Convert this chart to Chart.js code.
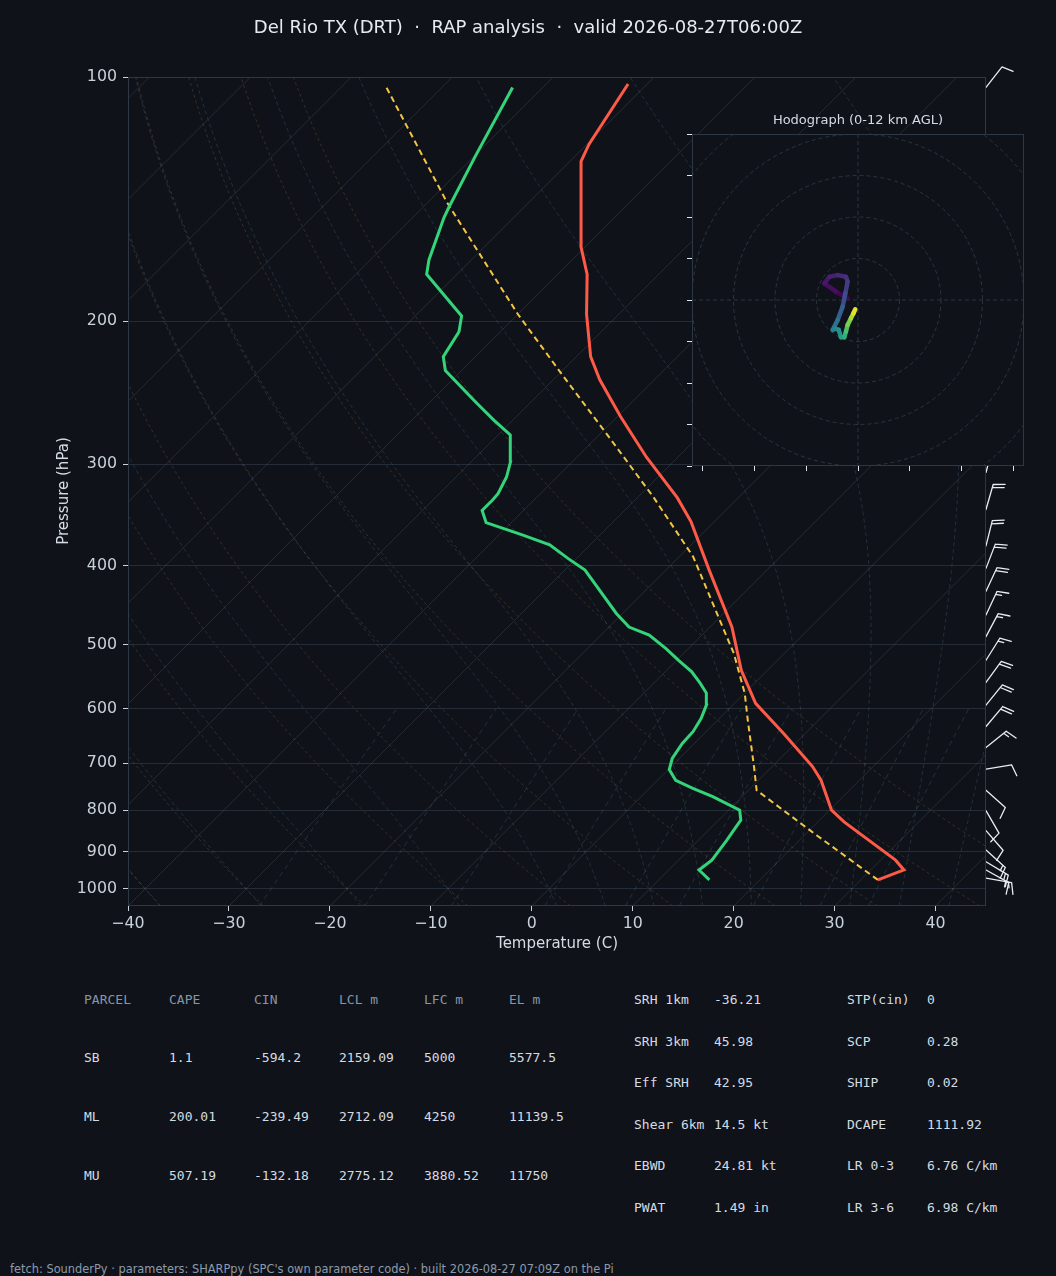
<!DOCTYPE html>
<html>
<head>
<meta charset="utf-8">
<title>Del Rio TX (DRT) sounding</title>
<script src="https://cdn.jsdelivr.net/npm/chart.js@4.4.1/dist/chart.umd.min.js"></script>
<style>
  body { margin: 0; background: #0f1319; width: 1056px; height: 1276px; position: relative; overflow: hidden;
         font-family: "DejaVu Sans", sans-serif; color: #e6ebf0; }
  canvas { position: absolute; }
  #skew { left: 0; top: 0; }
  #hodo { left: 600px; top: 100px; }
  .t { position: absolute; white-space: pre; line-height: 16px; height: 16px; }
  .mono { font-family: "DejaVu Sans Mono", monospace; font-size: 13px; color: #d5dbe3; }
  .head { color: #8795a8; }
</style>
</head>
<body>
<canvas id="skew" width="1056" height="960"></canvas>
<canvas id="hodo" width="456" height="400"></canvas>
<div id="labels"></div>

<script>
// sounding (pressure hPa, temperature C)
const tempP = [975, 948, 922, 827, 800, 735, 707, 644, 591, 538, 476, 405, 353, 330, 294, 262, 236, 221, 196, 175, 162, 140, 127, 121, 102];
const tempC = [31.7, 33.3, 31.5, 22.6, 20.2, 16.2, 14.0, 7.9, 2.1, -2.6, -7.8, -15.7, -22.3, -26.0, -33.1, -39.7, -45.4, -48.6, -53.2, -57.1, -60.4, -65.5, -68.9, -69.8, -71.9];

const dewP = [975, 948, 922, 871, 839, 823, 800, 770, 752, 735, 713, 691, 662, 640, 617, 594, 574, 558, 540, 523, 506, 487, 476, 458, 405, 392, 377, 366, 354, 342, 332, 326, 311, 298, 276, 265, 251, 230, 221, 206, 197, 175, 168, 149, 145, 125, 103];
const dewC = [15.0, 13.0, 13.3, 12.8, 12.4, 12.2, 11.1, 7.1, 4.3, 1.8, 0.1, -0.7, -1.2, -1.3, -1.8, -2.6, -3.8, -5.4, -7.4, -9.8, -12.2, -15.2, -18.0, -20.6, -28.0, -30.8, -34.0, -37.9, -42.5, -44.1, -44.1, -44.2, -45.0, -46.1, -48.8, -51.8, -55.6, -61.6, -63.2, -64.1, -65.4, -73.0, -74.2, -76.9, -77.4, -79.9, -83.0];

const parcelP = [975, 859, 756, 707, 620, 574, 513, 462, 390, 329, 275, 232, 196, 143, 103];
const parcelC = [31.7, 21.2, 10.8, 8.2, 3.0, 0.0, -5.0, -10.2, -18.6, -28.5, -39.4, -49.8, -60.0, -78.0, -95.5];

// wind barbs (pressure, direction deg, speed kt)
const windP = [970, 948, 926, 896, 848, 801, 756, 712, 670, 631, 594, 557, 523, 489, 460, 430, 403, 378, 341, 307, 103];
const windDir = [100, 119, 121, 132, 139, 150, 132, 81, 51, 40, 39, 36, 32, 28, 25, 25, 21, 14, 16, 15, 38];
const windKt = [15, 15, 15, 15, 10, 10, 10, 10, 15, 20, 20, 20, 15, 15, 15, 20, 20, 20, 20, 20, 10];

// hodograph (u, v kt) and height km AGL
const hodoU = [-5.0, -10.6, -16.2, -13.8, -9.8, -5.8, -5.0, -6.1, -7.4, -9.8, -12.2, -10.9, -9.3, -8.2, -6.6, -5.8, -5.0, -3.4, -2.2, -1.3];
const hodoV = [0.8, 4.0, 8.0, 11.2, 12.0, 11.2, 8.8, 3.2, -3.2, -9.6, -14.4, -13.8, -14.4, -17.9, -17.9, -15.2, -12.0, -8.8, -6.4, -4.5];
const hodoKm = [0, 0.3, 0.6, 0.9, 1.2, 1.5, 1.8, 2.4, 3.2, 4.0, 4.8, 5.3, 5.8, 6.5, 7.2, 8.0, 9.0, 10.0, 11.0, 12.0];

const presTicks = [100, 200, 300, 400, 500, 600, 700, 800, 900, 1000];
const tempTicks = [-40, -30, -20, -10, 0, 10, 20, 30, 40];
const hodoYTicks = [-80, -60, -40, -20, 0, 20, 40, 60, 80];
const hodoXTicks = [-75, -50, -25, 0, 25, 50, 75];
const hodoRings = [20, 40, 60, 80, 100];

// text panels
const titleText = 'Del Rio TX (DRT)  \u00b7  RAP analysis  \u00b7  valid 2026-08-27T06:00Z';
const parcelCols = ['PARCEL', 'CAPE', 'CIN', 'LCL m', 'LFC m', 'EL m'];
const parcelRows = [
  ['SB', '1.1', '-594.2', '2159.09', '5000', '5577.5'],
  ['ML', '200.01', '-239.49', '2712.09', '4250', '11139.5'],
  ['MU', '507.19', '-132.18', '2775.12', '3880.52', '11750']
];
const paramNames1 = ['SRH 1km', 'SRH 3km', 'Eff SRH', 'Shear 6km', 'EBWD', 'PWAT'];
const paramVals1 = ['-36.21', '45.98', '42.95', '14.5 kt', '24.81 kt', '1.49 in'];
const paramNames2 = ['STP(cin)', 'SCP', 'SHIP', 'DCAPE', 'LR 0-3', 'LR 3-6'];
const paramVals2 = ['0', '0.28', '0.02', '1111.92', '6.76 C/km', '6.98 C/km'];
const footerText = "fetch: SounderPy \u00b7 parameters: SHARPpy (SPC's own parameter code) \u00b7 built 2026-08-27 07:09Z on the Pi";

const dryT0 = [-40, -30, -20, -10, 0, 10, 20, 30, 40, 50];
const moistT0 = [-40, -30, -20, -10, 0, 5, 10, 15, 20, 25, 30, 35, 40, 45];
const mixRatios = [0.0004, 0.001, 0.002, 0.004, 0.007, 0.01, 0.016, 0.024, 0.032];

const SKEW = 34.93;   // 45 degree isotherms for this plot box
const P_BOT = 1050, P_TOP = 100;
function skx(t, p) { return t + SKEW * Math.log(P_BOT / p); }
function pts(P, T) { return P.map((p, i) => ({ x: skx(T[i], p), y: p })); }

// thermodynamics for the background lines
function dTdp(p, T) {
  const es = 6.112 * Math.exp(17.67 * (T - 273.15) / (T - 29.65));
  const rs = 0.622 * es / (p - es);
  return (287.04 * T + 2.501e6 * rs) / (1005.7 + 2.501e6 * 2.501e6 * rs * 0.622 / (287.04 * T * T)) / p;
}
function rk4(p, T, h) {
  const k1 = dTdp(p, T), k2 = dTdp(p + h / 2, T + h * k1 / 2);
  const k3 = dTdp(p + h / 2, T + h * k2 / 2), k4 = dTdp(p + h, T + h * k3);
  return T + h * (k1 + 2 * k2 + 2 * k3 + k4) / 6;
}
function moistLine(t0) {
  const out = [];
  let T = t0 + 273.15;
  for (let p = 1000; p < P_BOT; p += 5) T = rk4(p, T, 5);
  out.push([T - 273.15, P_BOT]);
  for (let p = P_BOT; p > P_TOP; p -= 5) { T = rk4(p, T, -5); out.push([T - 273.15, p - 5]); }
  return out;
}
function dryLine(t0) {
  const out = [];
  for (let p = P_BOT; p >= P_TOP; p -= 10) out.push([(t0 + 273.15) * Math.pow(p / 1000, 0.2857) - 273.15, p]);
  return out;
}
function mixLine(w) {
  const out = [];
  for (let p = P_BOT; p >= 600; p -= 10) {
    const l = Math.log(w * p / (0.622 + w) / 6.112);
    out.push([243.5 * l / (17.67 - l), p]);
  }
  return out;
}

const diagramLines = {
  id: 'diagramLines',
  beforeDatasetsDraw(chart) {
    const { ctx, chartArea: a, scales: { x, y } } = chart;
    ctx.save();
    ctx.beginPath();
    ctx.rect(a.left, a.top, a.right - a.left, a.bottom - a.top);
    ctx.clip();
    const draw = (line, color, dash) => {
      ctx.strokeStyle = color; ctx.lineWidth = 0.8; ctx.setLineDash(dash);
      ctx.beginPath();
      line.forEach((q, i) => {
        const X = x.getPixelForValue(skx(q[0], q[1])), Y = y.getPixelForValue(q[1]);
        if (i) ctx.lineTo(X, Y); else ctx.moveTo(X, Y);
      });
      ctx.stroke();
    };
    for (let t = -150; t <= 50; t += 10) draw([[t, P_BOT], [t, P_TOP]], 'rgba(150,160,175,0.22)', []);
    dryT0.forEach(t => draw(dryLine(t), 'rgba(175,125,75,0.32)', [3, 3]));
    moistT0.forEach(t => draw(moistLine(t), 'rgba(90,140,170,0.30)', [4, 3]));
    mixRatios.forEach(w => draw(mixLine(w), 'rgba(95,135,175,0.32)', [5, 4]));
    ctx.restore();
  }
};

const windBarbs = {
  id: 'windBarbs',
  afterDatasetsDraw(chart) {
    const { ctx, chartArea: a, scales: { y } } = chart;
    ctx.save();
    ctx.strokeStyle = '#e8edf2'; ctx.lineWidth = 1.3; ctx.lineCap = 'round';
    const L = 26, H = 0.44 * L, W = 0.13 * L, GAP = 3.3;
    windP.forEach((p, i) => {
      const bx = a.right, by = y.getPixelForValue(p);
      const r = windDir[i] * Math.PI / 180;
      const sx = Math.sin(r), sy = -Math.cos(r), nx = -sy, ny = sx;
      ctx.beginPath();
      ctx.moveTo(bx, by); ctx.lineTo(bx + sx * L, by + sy * L);
      const full = Math.floor(windKt[i] / 10), half = windKt[i] % 10 >= 5;
      let pos = L;
      for (let k = 0; k < full; k++) {
        ctx.moveTo(bx + sx * pos, by + sy * pos);
        ctx.lineTo(bx + sx * (pos + W) + nx * H, by + sy * (pos + W) + ny * H);
        pos -= GAP;
      }
      if (half) {
        if (!full) pos -= GAP;
        ctx.moveTo(bx + sx * pos, by + sy * pos);
        ctx.lineTo(bx + sx * (pos + W / 2) + nx * H / 2, by + sy * (pos + W / 2) + ny * H / 2);
      }
      ctx.stroke();
    });
    ctx.restore();
  }
};

const frame = {
  id: 'frame',
  afterDraw(chart) {
    const { ctx, chartArea: a } = chart;
    ctx.save();
    ctx.strokeStyle = '#2e3744'; ctx.lineWidth = 1;
    ctx.strokeRect(a.left + 0.5, a.top + 0.5, a.right - a.left - 1, a.bottom - a.top - 1);
    ctx.restore();
  }
};

Chart.defaults.font.family = 'DejaVu Sans';
const tickColor = '#c9d1d9';
const minus = v => (v < 0 ? '\u2212' + Math.abs(v) : String(v));

new Chart(document.getElementById('skew'), {
  type: 'scatter',
  data: {
    datasets: [
      { data: pts(tempP, tempC), borderColor: '#ff5a48', borderWidth: 3, order: 0 },
      { data: pts(dewP, dewC), borderColor: '#34d47a', borderWidth: 3, order: 1 },
      { data: pts(parcelP, parcelC), borderColor: '#f4c542', borderWidth: 2, borderDash: [6, 4], order: 2 }
    ].map(d => Object.assign(d, { showLine: true, pointRadius: 0, tension: 0, fill: false }))
  },
  options: {
    responsive: false,
    animation: false,
    layout: { padding: { left: 0, top: 77, right: 70, bottom: 0 } },
    plugins: { legend: { display: false }, tooltip: { enabled: false } },
    scales: {
      x: {
        type: 'linear', min: -40, max: 45,
        afterBuildTicks: ax => { ax.ticks = tempTicks.map(v => ({ value: v })); },
        afterFit: ax => { ax.height = 54; },
        ticks: { color: tickColor, font: { size: 15.8 }, padding: 3, maxRotation: 0, autoSkip: false, callback: v => minus(v) },
        grid: { drawOnChartArea: false, tickLength: 5, tickColor: tickColor },
        border: { display: false }
      },
      y: {
        type: 'logarithmic', reverse: true, min: P_TOP, max: P_BOT,
        afterBuildTicks: ax => { ax.ticks = presTicks.map(v => ({ value: v })); },
        afterFit: ax => { ax.width = 128; },
        ticks: { color: tickColor, font: { size: 15.8 }, padding: 6, autoSkip: false, callback: v => String(v) },
        grid: { color: '#242c37', lineWidth: 1, tickLength: 5, tickColor: tickColor },
        border: { display: false }
      }
    }
  },
  plugins: [diagramLines, windBarbs, frame]
});

// hodograph inset
const viridisStops = [[68, 1, 84], [72, 40, 120], [62, 74, 137], [49, 104, 142], [38, 130, 142],
                      [31, 158, 137], [53, 183, 121], [109, 205, 89], [180, 222, 44], [253, 231, 37]];
function viridis(f) {
  const s = Math.max(0, Math.min(1, f)) * (viridisStops.length - 1);
  const i = Math.min(Math.floor(s), viridisStops.length - 2), t = s - i;
  const c = viridisStops[i].map((v, k) => Math.round(v + (viridisStops[i + 1][k] - v) * t));
  return 'rgb(' + c.join(',') + ')';
}

const hodoFrame = {
  id: 'hodoFrame',
  beforeDraw(chart) {
    const { ctx, chartArea: a } = chart;
    ctx.save();
    ctx.fillStyle = '#0f1319';
    ctx.fillRect(a.left, a.top, a.right - a.left, a.bottom - a.top);
    ctx.restore();
  },
  beforeDatasetsDraw(chart) {
    const { ctx, chartArea: a, scales: { x, y } } = chart;
    ctx.save();
    ctx.beginPath(); ctx.rect(a.left, a.top, a.right - a.left, a.bottom - a.top); ctx.clip();
    ctx.strokeStyle = '#2b3441'; ctx.lineWidth = 1; ctx.setLineDash([4, 3]);
    const cx = x.getPixelForValue(0), cy = y.getPixelForValue(0);
    hodoRings.forEach(r => {
      ctx.beginPath();
      ctx.arc(cx, cy, x.getPixelForValue(r) - cx, 0, Math.PI * 2);
      ctx.stroke();
    });
    ctx.beginPath();
    ctx.moveTo(a.left, cy); ctx.lineTo(a.right, cy);
    ctx.moveTo(cx, a.top); ctx.lineTo(cx, a.bottom);
    ctx.stroke();
    ctx.restore();
  },
  afterDraw(chart) {
    const { ctx, chartArea: a } = chart;
    ctx.save();
    ctx.strokeStyle = '#2e3744'; ctx.lineWidth = 1;
    ctx.strokeRect(a.left + 0.5, a.top + 0.5, a.right - a.left - 1, a.bottom - a.top - 1);
    ctx.restore();
  }
};

new Chart(document.getElementById('hodo'), {
  type: 'scatter',
  data: {
    datasets: [{
      data: hodoU.map((u, i) => ({ x: u, y: hodoV[i] })),
      showLine: true, pointRadius: 0, borderWidth: 4.5, tension: 0,
      borderCapStyle: 'round', borderJoinStyle: 'round',
      segment: { borderColor: c => viridis((hodoKm[c.p0DataIndex] + hodoKm[c.p1DataIndex]) / 24) }
    }]
  },
  options: {
    responsive: false,
    animation: false,
    layout: { padding: { left: 0, top: 34, right: 32, bottom: 0 } },
    plugins: { legend: { display: false }, tooltip: { enabled: false } },
    scales: {
      x: {
        type: 'linear', min: -80, max: 80,
        afterBuildTicks: ax => { ax.ticks = hodoXTicks.map(v => ({ value: v })); },
        afterFit: ax => { ax.height = 34; },
        ticks: { display: false },
        grid: { drawOnChartArea: false, tickLength: 5, tickColor: '#dfe5ec' },
        border: { display: false }
      },
      y: {
        type: 'linear', min: -80, max: 80,
        afterBuildTicks: ax => { ax.ticks = hodoYTicks.map(v => ({ value: v })); },
        afterFit: ax => { ax.width = 92; },
        ticks: { display: false },
        grid: { drawOnChartArea: false, tickLength: 5, tickColor: '#dfe5ec' },
        border: { display: false }
      }
    }
  },
  plugins: [hodoFrame]
});

// text: title, axis titles, tables, footer
const box = document.getElementById('labels');
function put(text, x, yc, cls, extra) {
  const d = document.createElement('div');
  d.className = 't ' + (cls || '');
  d.textContent = text;
  d.style.left = x + 'px';
  d.style.top = (yc - 8) + 'px';
  if (extra) Object.assign(d.style, extra);
  box.appendChild(d);
  return d;
}
put(titleText, 0, 27, '', { width: '1056px', textAlign: 'center', fontSize: '18px', color: '#e6ebf0' });
put('Temperature (C)', 0, 943, '', { width: '1114px', textAlign: 'center', fontSize: '15px', color: '#d5dbe3' });
put('Pressure (hPa)', 63 - 70, 491, '', { width: '140px', textAlign: 'center', fontSize: '15px', color: '#d5dbe3', transform: 'rotate(-90deg)' });
put('Hodograph (0-12 km AGL)', 758, 120, '', { width: '200px', textAlign: 'center', fontSize: '13px', color: '#d5dbe3' });

const colX = [84, 169, 254, 339, 424, 509];
const rowY = [1058, 1117, 1176];
parcelCols.forEach((c, j) => put(c, colX[j], 1000, 'mono head'));
parcelRows.forEach((r, i) => r.forEach((v, j) => put(v, colX[j], rowY[i], 'mono')));

const paramY = [1000, 1041.5, 1083, 1124.5, 1166, 1207.5];
paramNames1.forEach((n, i) => {
  put(n, 634, paramY[i], 'mono');
  put(paramVals1[i], 714, paramY[i], 'mono');
  put(paramNames2[i], 847, paramY[i], 'mono');
  put(paramVals2[i], 927, paramY[i], 'mono');
});
put(footerText, 10, 1269, '', { fontSize: '11.4px', color: '#8d9aab' });
</script>
</body>
</html>
